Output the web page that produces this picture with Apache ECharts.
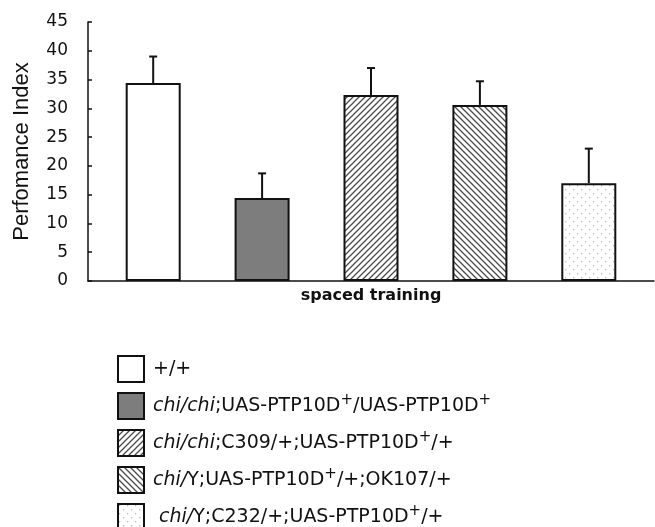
<!DOCTYPE html>
<html>
<head>
<meta charset="utf-8">
<script src="https://cdn.jsdelivr.net/npm/echarts@6/dist/echarts.min.js"></script>
<style>
  html, body { margin: 0; padding: 0; background: #fff; }
  #chart { width: 655px; height: 527px; }
</style>
</head>
<body>
<div id="chart"></div>
<script>
// genotypes, in legend order
const genotypes = [
  "+/+",
  "chi/chi;UAS-PTP10D+/UAS-PTP10D+",
  "chi/chi;C309/+;UAS-PTP10D+/+",
  "chi/Y;UAS-PTP10D+/+;OK107/+",
  "chi/Y;C232/+;UAS-PTP10D+/+"
];
// rich text version of each legend label
const legendLabels = [
  "+/+",
  "{i|chi/chi};UAS-PTP10D{s|+}/UAS-PTP10D{s|+}",
  "{i|chi/chi};C309/+;UAS-PTP10D{s|+}/+",
  "{i|chi/}Y;UAS-PTP10D{s|+}/+;OK107/+",
  " {i|chi/}Y;C232/+;UAS-PTP10D{s|+}/+"
];
const categories = ["spaced training"];
const perfIndex = [34.4, 14.4, 32.3, 30.6, 17.0];
const perfErr = [4.6, 4.3, 4.7, 4.1, 6.0];
const yTicks = { min: 0, max: 45, interval: 5 };

function pattern(kind) {
  const c = document.createElement("canvas");
  const s = kind === "dots" ? 8 : 6;
  c.width = s;
  c.height = s;
  const ctx = c.getContext("2d");
  ctx.fillStyle = "#fff";
  ctx.fillRect(0, 0, s, s);
  if (kind === "dots") {
    ctx.fillStyle = "#bdbdbd";
    ctx.fillRect(1, 1, 1.3, 1.3);
    ctx.fillRect(5, 5, 1.3, 1.3);
    return c;
  }
  ctx.strokeStyle = "#4a4a4a";
  ctx.lineWidth = 1.3;
  ctx.beginPath();
  if (kind === "up") {
    for (let k = -1; k <= 1; k++) {
      ctx.moveTo(k * s - 1, s + 1);
      ctx.lineTo(k * s + s + 1, -1);
    }
  } else {
    for (let k = -1; k <= 1; k++) {
      ctx.moveTo(k * s - 1, -1);
      ctx.lineTo(k * s + s + 1, s + 1);
    }
  }
  ctx.stroke();
  return c;
}

const fills = [
  "#ffffff",
  "#7d7d7d",
  { image: pattern("up"), repeat: "repeat" },
  { image: pattern("down"), repeat: "repeat" },
  { image: pattern("dots"), repeat: "repeat" }
];

const BAR_W = 55;
const BAR_GAP = "98%";

const chart = echarts.init(document.getElementById("chart"));

const barSeries = genotypes.map((name, i) => ({
  name: name,
  type: "bar",
  barWidth: BAR_W,
  barGap: BAR_GAP,
  data: [perfIndex[i]],
  itemStyle: {
    color: fills[i],
    borderColor: "#111",
    borderWidth: 2
  },
  emphasis: { disabled: true },
  z: 2
}));

const errSeries = {
  type: "custom",
  name: "err",
  data: perfIndex.map((v, i) => [0, v, v + perfErr[i], i]),
  renderItem: function (params, api) {
    const layouts = api.barLayout({ count: genotypes.length, barWidth: BAR_W, barGap: BAR_GAP });
    const idx = api.value(3);
    const base = api.coord([0, api.value(1)]);
    const top = api.coord([0, api.value(2)]);
    const x = base[0] + layouts[idx].offsetCenter;
    const st = { stroke: "#111", lineWidth: 2 };
    return {
      type: "group",
      children: [
        { type: "line", shape: { x1: x, y1: base[1], x2: x, y2: top[1] }, style: st },
        { type: "line", shape: { x1: x - 4, y1: top[1], x2: x + 4, y2: top[1] }, style: st }
      ]
    };
  },
  z: 3
};

const option = {
  animation: false,
  textStyle: { fontFamily: "DejaVu Sans" },
  grid: { left: 88, right: 1, top: 22, bottom: 246 },
  legend: {
    data: genotypes,
    orient: "vertical",
    left: 117,
    top: 355,
    padding: 0,
    height: 200,
    itemWidth: 26,
    itemHeight: 26,
    itemGap: 9,
    selectedMode: false,
    icon: "rect",
    formatter: function (name) {
      return legendLabels[genotypes.indexOf(name)];
    },
    textStyle: {
      fontFamily: "DejaVu Sans",
      fontSize: 19,
      lineHeight: 26,
      color: "#111",
      padding: [0, 0, 0, 4],
      rich: {
        i: { fontFamily: "DejaVu Sans", fontStyle: "italic", fontSize: 19, lineHeight: 26, color: "#111" },
        s: { fontFamily: "DejaVu Sans", fontSize: 15, lineHeight: 15, verticalAlign: "top", color: "#111" }
      }
    }
  },
  xAxis: {
    type: "category",
    data: categories,
    axisLine: { lineStyle: { color: "#111", width: 1.5 } },
    axisTick: { show: false },
    axisLabel: {
      margin: 7,
      fontFamily: "DejaVu Sans",
      fontWeight: "bold",
      fontSize: 16,
      color: "#111"
    }
  },
  yAxis: {
    type: "value",
    min: yTicks.min,
    max: yTicks.max,
    interval: yTicks.interval,
    name: "Perfomance Index",
    nameLocation: "middle",
    nameGap: 55,
    nameTextStyle: { fontFamily: "Liberation Sans", fontSize: 22, color: "#111" },
    splitLine: { show: false },
    axisLine: { show: true, lineStyle: { color: "#111", width: 1.5 } },
    axisTick: { show: true, inside: true, length: 4, lineStyle: { color: "#111", width: 1.5 } },
    axisLabel: { margin: 20, fontFamily: "DejaVu Sans", fontSize: 17, color: "#111" }
  },
  series: barSeries.concat([errSeries])
};

chart.setOption(option);
</script>
</body>
</html>
